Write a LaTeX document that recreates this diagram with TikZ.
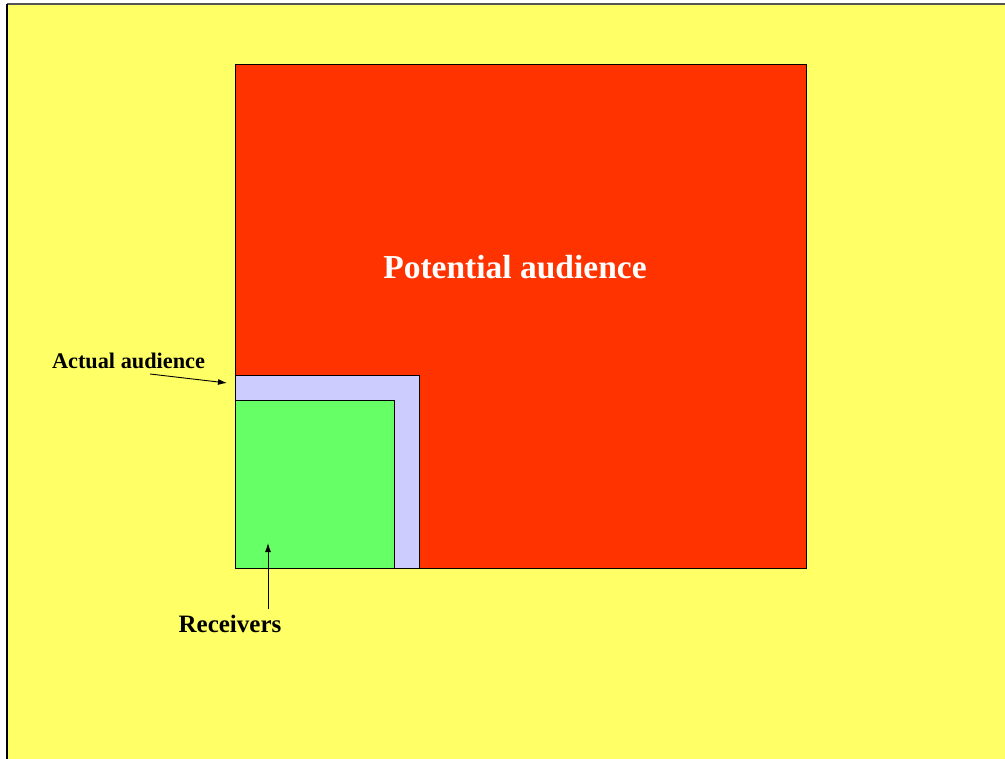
\documentclass[tikz,border=0pt]{standalone}
\usepackage{fontspec}
\setmainfont{Liberation Serif}
\usetikzlibrary{arrows.meta}
\definecolor{bgyellow}{HTML}{FFFF66}
\definecolor{potred}{HTML}{FF3300}
\definecolor{actlav}{HTML}{CCCCFF}
\definecolor{recgreen}{HTML}{66FF66}
\definecolor{topgray}{HTML}{555555}
\tikzset{
  area/.style={draw=black, line width=0.9pt},
  lbl/.style={font=\bfseries, text=black, inner sep=0pt},
  ptr/.style={-{Latex[length=9pt,width=6pt]}, line width=0.9pt, black}
}
\begin{document}
\begin{tikzpicture}[x=1pt,y=-1pt]
\useasboundingbox (0,0) rectangle (1005,759);
\fill[white] (0,0) rectangle (1005,759);
\fill[bgyellow] (7,4) rectangle (1005,759);
\draw[topgray, line width=1.5pt] (7,4) -- (1005,4);
\draw[black, line width=1.8pt] (7,4) -- (7,759);
% areas
\draw[area, fill=potred] (235,64) rectangle (806,568);
\draw[area, fill=actlav] (235,375) rectangle (419,568);
\draw[area, fill=recgreen] (235,400) rectangle (394,568);
% labels
\node[lbl, text=white, font=\bfseries\fontsize{33.5}{40}\selectfont] (pot) at (515,267) {Potential audience};
\node[lbl, font=\bfseries\fontsize{22.3}{26}\selectfont] (act) at (128.5,361) {Actual audience};
\node[lbl, font=\bfseries\fontsize{25}{30}\selectfont] (rec) at (230,624) {Receivers};
\coordinate (acttip) at (227,383);
\coordinate (actstart) at (150,374);
\coordinate (rectip) at (268,543);
\coordinate (recstart) at (268,609);
\draw[ptr] (actstart) -- (acttip);
\draw[ptr] (recstart) -- (rectip);
\end{tikzpicture}
\end{document}
